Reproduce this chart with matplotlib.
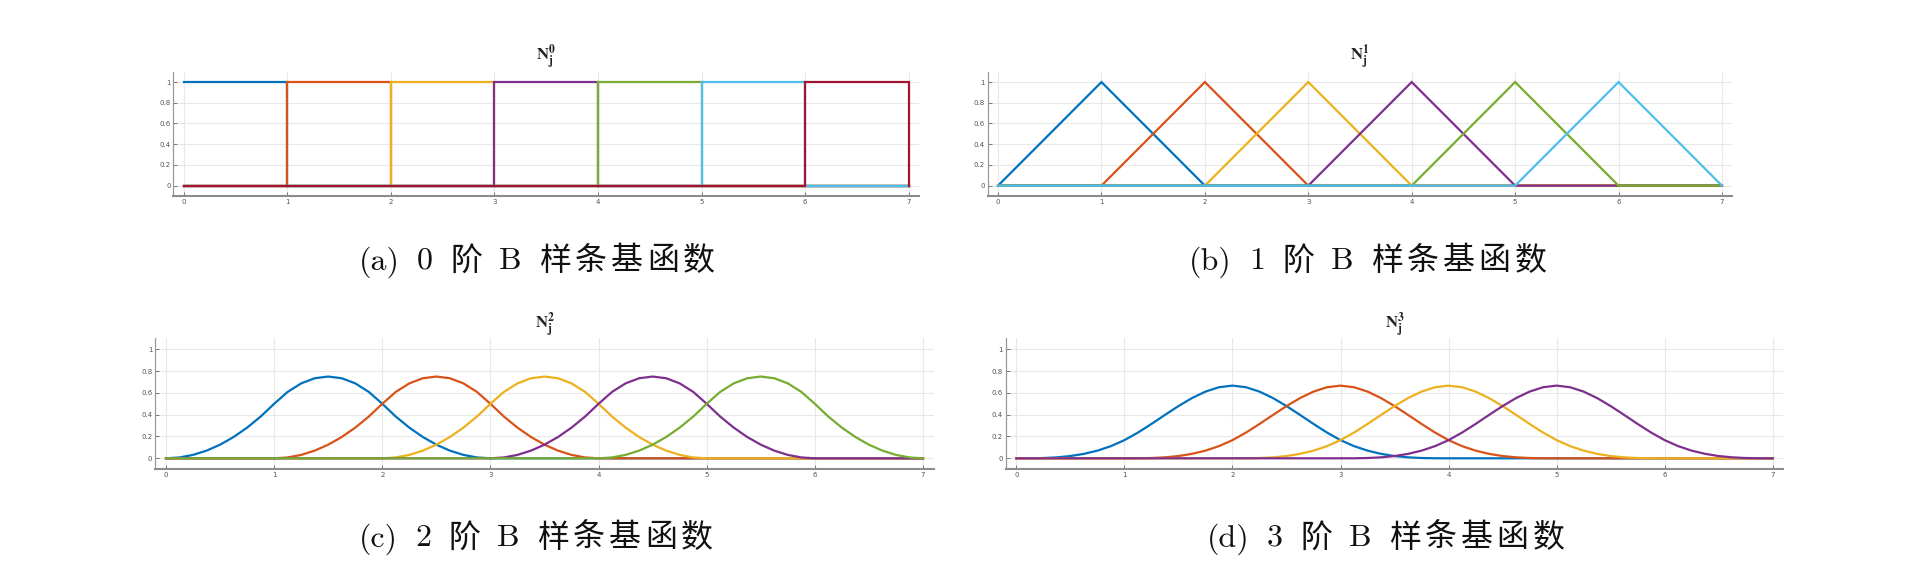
import numpy as np
import matplotlib
matplotlib.use('Agg')
import matplotlib.pyplot as plt

# --- 数据：节点区间 0..7，各阶 B 样条基函数（从图中读取的形状） ---
X_MIN, X_MAX = 0, 7
X_TICKS = [0, 1, 2, 3, 4, 5, 6, 7]
Y_TICKS = [0, 0.2, 0.4, 0.6, 0.8, 1]
Y_TICK_LABELS = ['0', '0.2', '0.4', '0.6', '0.8', '1']

# 每个面板中各条曲线的起始节点
STARTS_0 = [0, 1, 2, 3, 4, 5, 6]
STARTS_1 = [0, 1, 2, 3, 4, 5]
STARTS_2 = [0, 1, 2, 3, 4]
STARTS_3 = [0, 1, 2, 3]

# 单条基函数的形状（相对起始节点）
PROFILE_0_X = [0, 1, 1]
PROFILE_0_Y = [1, 1, 0]
PROFILE_1_X = [0, 1, 2]
PROFILE_1_Y = [0, 1, 0]
PROFILE_STEP = 0.125
PROFILE_2_Y = [0, 0.0078, 0.0313, 0.0703, 0.125, 0.1953, 0.2813, 0.3828, 0.5,
               0.6094, 0.6875, 0.7344, 0.75, 0.7344, 0.6875, 0.6094, 0.5,
               0.3828, 0.2813, 0.1953, 0.125, 0.0703, 0.0313, 0.0078, 0]
PROFILE_3_Y = [0, 0.0003, 0.0026, 0.0088, 0.0208, 0.0407, 0.0703, 0.1117, 0.1667,
               0.2360, 0.3151, 0.3981, 0.4792, 0.5524, 0.6120, 0.6520, 0.6667,
               0.6520, 0.6120, 0.5524, 0.4792, 0.3981, 0.3151, 0.2360, 0.1667,
               0.1117, 0.0703, 0.0407, 0.0208, 0.0088, 0.0026, 0.0003, 0]

TITLES = [r'$\mathbf{N_j^0}$', r'$\mathbf{N_j^1}$', r'$\mathbf{N_j^2}$', r'$\mathbf{N_j^3}$']
CAPTIONS = ['(a) 0 阶 B 样条基函数', '(b) 1 阶 B 样条基函数',
            '(c) 2 阶 B 样条基函数', '(d) 3 阶 B 样条基函数']

# MATLAB 默认配色
COLORS = ['#0072BD', '#D95319', '#EDB120', '#7E2F8E', '#77AC30', '#4DBEEE', '#A2142F']

plt.rcParams['mathtext.fontset'] = 'stix'
CAPTION_FONT = ['cmr10', 'Noto Sans CJK SC']
CAPTION_SIZE = 23
WORD_GAP = 17      # 词间距（像素）
CJK_TRACK = 4      # 汉字间额外间距（像素）

W, H = 1924, 577
fig = plt.figure(figsize=(W / 100, H / 100), dpi=100)
fig.patch.set_facecolor('white')
renderer = fig.canvas.get_renderer()

# 面板位置（像素：左、上、右、下）
BOXES = [(173.3, 71.7, 919.0, 196.0),
         (987.7, 71.7, 1732.3, 196.0),
         (155.2, 338.4, 933.8, 469.2),
         (1005.6, 338.4, 1783.5, 469.2)]
TITLE_Y = [57, 57, 325, 325]
CAPTION_POS = [(537, 258), (1368, 258), (536, 535), (1386, 535)]


def draw_caption(text, cx, cy):
    """逐段排版标题，模拟原图中较宽的字距。"""
    pieces = []  # (字符串, 之前的间距)
    for wi, word in enumerate(text.split(' ')):
        gap = WORD_GAP if wi > 0 else 0
        if all(ord(c) > 0x2E80 for c in word):
            for ci, ch in enumerate(word):
                pieces.append((ch, gap if ci == 0 else CJK_TRACK))
        else:
            pieces.append((word, gap))
    widths = []
    for s, _ in pieces:
        t = fig.text(0, 0, s, fontsize=CAPTION_SIZE, family=CAPTION_FONT)
        widths.append(t.get_window_extent(renderer).width)
        t.remove()
    total = sum(widths) + sum(g for _, g in pieces)
    x = cx - total / 2
    for (s, g), w in zip(pieces, widths):
        x += g
        fig.text(x / W, 1 - cy / H, s, ha='left', va='center_baseline',
                 fontsize=CAPTION_SIZE, family=CAPTION_FONT, color='#111111')
        x += w


panels = [
    (STARTS_0, PROFILE_0_X, PROFILE_0_Y),
    (STARTS_1, PROFILE_1_X, PROFILE_1_Y),
    (STARTS_2, list(np.arange(len(PROFILE_2_Y)) * PROFILE_STEP), PROFILE_2_Y),
    (STARTS_3, list(np.arange(len(PROFILE_3_Y)) * PROFILE_STEP), PROFILE_3_Y),
]

for i, (starts, px, py) in enumerate(panels):
    l, t, r, b = BOXES[i]
    ax = fig.add_axes([l / W, 1 - b / H, (r - l) / W, (b - t) / H])
    for k, s in enumerate(starts):
        xs, ys = [], []
        if s > X_MIN:
            xs += [X_MIN, s]
            ys += [0, 0]
        xs += [s + v for v in px]
        ys += list(py)
        xs.append(X_MAX)
        ys.append(0)
        ax.plot(xs, ys, color=COLORS[k], lw=1.6, solid_joinstyle='miter')

    ax.set_xlim(-0.1, 7.1)
    ax.set_ylim(-0.1, 1.1)
    ax.set_xticks(X_TICKS)
    ax.set_xticklabels([str(v) for v in X_TICKS])
    ax.set_yticks(Y_TICKS)
    ax.set_yticklabels(Y_TICK_LABELS)
    ax.grid(True, color='#e8e8e8', lw=0.8)
    ax.set_axisbelow(True)
    ax.tick_params(direction='in', length=3, width=0.7, colors='#777777',
                   labelsize=5, labelcolor='#555555', pad=2)
    for side in ['top', 'right']:
        ax.spines[side].set_visible(False)
    ax.spines['left'].set_color('#999999')
    ax.spines['left'].set_linewidth(0.9)
    ax.spines['bottom'].set_color('#8c8c8c')
    ax.spines['bottom'].set_linewidth(1.5)

    fig.text((l + r) / 2 / W, 1 - TITLE_Y[i] / H, TITLES[i], ha='center', va='center',
             fontsize=12, color='#222222')
    draw_caption(CAPTIONS[i], *CAPTION_POS[i])

fig.savefig('out.png', dpi=100, facecolor='white')
